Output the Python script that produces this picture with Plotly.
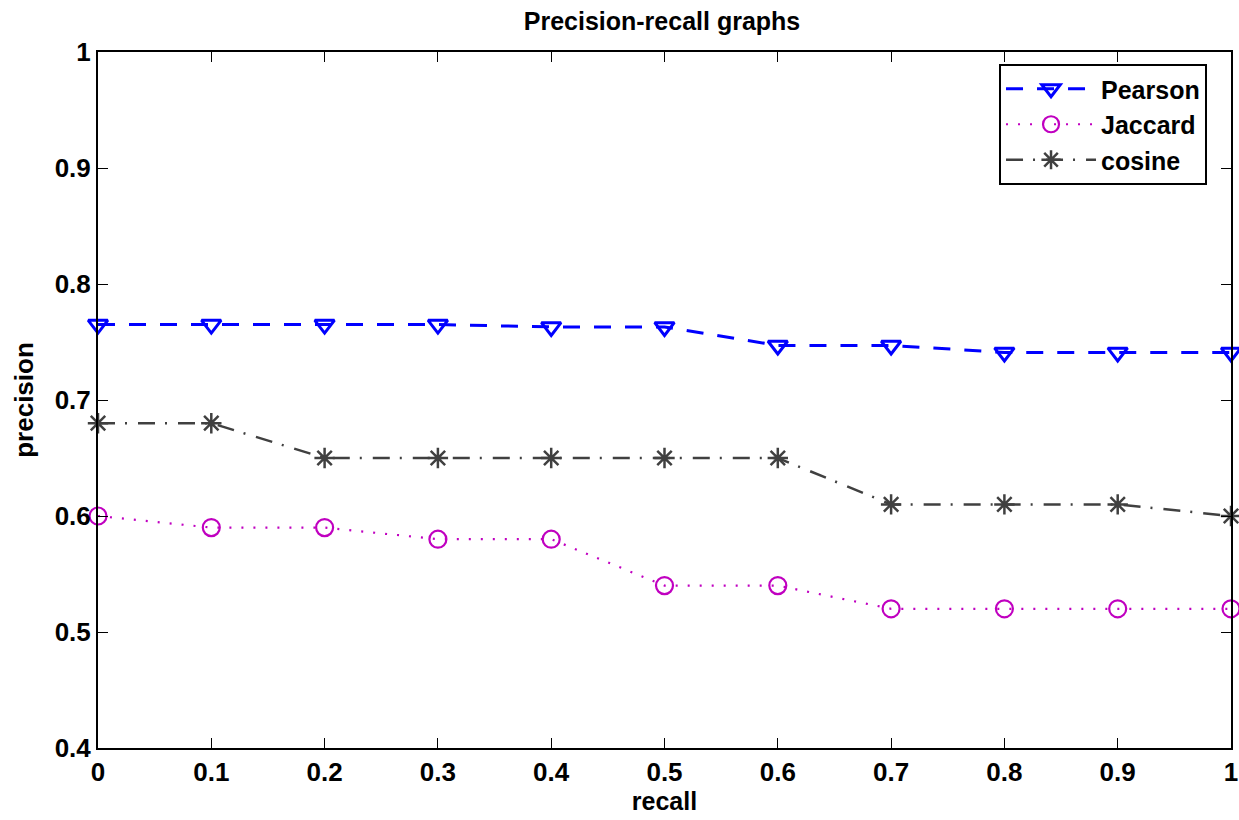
import plotly.graph_objects as go

recall = [0, 0.1, 0.2, 0.3, 0.4, 0.5, 0.6, 0.7, 0.8, 0.9, 1.0]
pearson = [0.765, 0.765, 0.765, 0.765, 0.763, 0.763, 0.747, 0.747, 0.741, 0.741, 0.741]
jaccard = [0.60, 0.59, 0.59, 0.58, 0.58, 0.54, 0.54, 0.52, 0.52, 0.52, 0.52]
cosine = [0.68, 0.68, 0.65, 0.65, 0.65, 0.65, 0.65, 0.61, 0.61, 0.61, 0.60]

x_ticks = [0, 0.1, 0.2, 0.3, 0.4, 0.5, 0.6, 0.7, 0.8, 0.9, 1]
x_labels = ["0", "0.1", "0.2", "0.3", "0.4", "0.5", "0.6", "0.7", "0.8", "0.9", "1"]
y_ticks = [0.4, 0.5, 0.6, 0.7, 0.8, 0.9, 1.0]
y_labels = ["0.4", "0.5", "0.6", "0.7", "0.8", "0.9", "1"]

FONT = "Liberation Sans, Arial, sans-serif"
W, H = 1239, 820

fig = go.Figure()
fig.add_trace(go.Scatter(
    x=recall, y=pearson, name="Pearson", mode="lines+markers",
    line=dict(color="#0000ff", width=3, dash="17px,14px"),
    marker=dict(symbol="triangle-down-open", size=17, color="#0000ff", line=dict(width=3, color="#0000ff")),
    cliponaxis=False,
))
fig.add_trace(go.Scatter(
    x=recall, y=jaccard, name="Jaccard", mode="lines+markers",
    line=dict(color="#c000c0", width=2.2, dash="2px,10px"),
    marker=dict(symbol="circle-open", size=17, color="#c000c0", line=dict(width=2.2, color="#c000c0")),
    cliponaxis=False,
))
fig.add_trace(go.Scatter(
    x=recall, y=cosine, name="cosine", mode="lines+markers",
    line=dict(color="#404040", width=2.5, dash="17px,10px,2px,11px"),
    marker=dict(symbol="asterisk-open", size=17, color="#404040", line=dict(width=2.5, color="#404040")),
    cliponaxis=False,
))

axis_common = dict(
    showline=True, linecolor="black", linewidth=2, mirror="ticks",
    ticks="inside", ticklen=10, tickwidth=1.2, tickcolor="black",
    showgrid=False, zeroline=False, ticklabeloverflow="allow",
    tickfont=dict(family=FONT, size=26, color="black", weight="bold"),
)

fig.update_layout(
    width=W, height=H,
    margin=dict(l=98, r=1, t=52, b=72),
    paper_bgcolor="white", plot_bgcolor="white",
    title=dict(text="Precision-recall graphs", x=662 / W, xanchor="center", y=1 - 21 / H, yanchor="middle",
               font=dict(family=FONT, size=25, color="black", weight="bold")),
    xaxis=dict(range=[0, 1], tickvals=x_ticks, ticktext=x_labels,
               title=dict(text="recall", font=dict(family=FONT, size=25, color="black", weight="bold"), standoff=2),
               **axis_common),
    yaxis=dict(range=[0.4, 1.0], tickvals=y_ticks, ticktext=y_labels,
               title=dict(text="precision", font=dict(family=FONT, size=26, color="black", weight="bold"), standoff=14),
               **axis_common),
    legend=dict(x=(1208 - 98) / 1134, y=(748 - 64) / 696, xanchor="right", yanchor="top",
                bordercolor="black", borderwidth=2, bgcolor="white",
                font=dict(family=FONT, size=25, color="black", weight="bold"),
                tracegroupgap=0, itemwidth=90),
    showlegend=True,
)

post = (
    "document.body.style.margin='0';"
    "document.body.style.overflow='hidden';"
    "var gd=document.getElementById('{plot_id}');"
    "Plotly.relayout(gd,{width:%d,height:%d});" % (W, H)
)

fig.write_html("out.html", post_script=post, config={"displayModeBar": False})
